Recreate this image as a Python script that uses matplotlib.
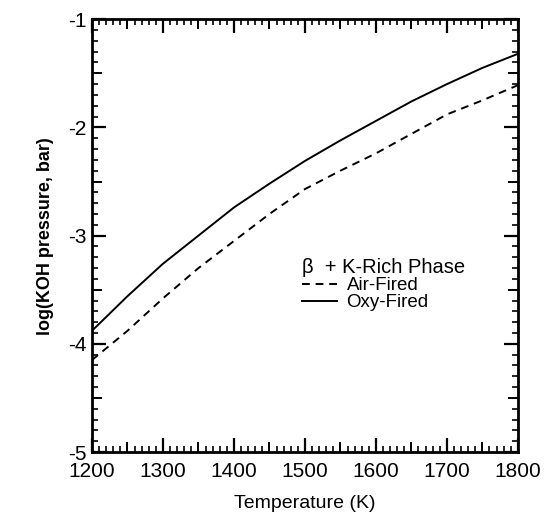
import matplotlib
matplotlib.use('Agg')
import matplotlib.pyplot as plt
from matplotlib.ticker import MultipleLocator

plt.rcParams['font.family'] = ['Liberation Sans', 'DejaVu Sans']
plt.rcParams['axes.unicode_minus'] = False
plt.rcParams['xtick.direction'] = 'in'
plt.rcParams['ytick.direction'] = 'in'

# --- data ---
temperature = [1200, 1250, 1300, 1350, 1400, 1450, 1500, 1550, 1600, 1650, 1700, 1750, 1800]
oxy_fired = [-3.88, -3.56, -3.26, -3.00, -2.74, -2.52, -2.31, -2.12, -1.94, -1.76, -1.60, -1.45, -1.32]
air_fired = [-4.15, -3.88, -3.58, -3.30, -3.05, -2.80, -2.57, -2.40, -2.24, -2.06, -1.88, -1.75, -1.61]

x_ticks = [1200, 1300, 1400, 1500, 1600, 1700, 1800]
y_ticks = [-5, -4, -3, -2, -1]

fig = plt.figure(figsize=(5.44, 5.19), dpi=100)
ax = fig.add_axes([0.169, 0.129, 0.783, 0.834])

ax.plot(temperature, air_fired, color='black', linestyle=(0, (4, 3)), linewidth=1.4, label='Air-Fired')
ax.plot(temperature, oxy_fired, color='black', linestyle='-', linewidth=1.4, label='Oxy-Fired')

ax.set_xlim(1200, 1800)
ax.set_ylim(-5, -1)
ax.set_xticks(x_ticks)
ax.set_yticks(y_ticks)
ax.xaxis.set_minor_locator(MultipleLocator(10))
ax.yaxis.set_minor_locator(MultipleLocator(0.1))
ax.tick_params(which='major', length=10, width=1.6, top=True, right=True, labelsize=15)
ax.tick_params(axis='x', which='major', pad=7)
ax.tick_params(axis='y', which='major', pad=4)
ax.tick_params(which='minor', length=4, width=1.2, top=True, right=True)
for s in ax.spines.values():
    s.set_linewidth(2)

# medium ticks at the half steps
for side in ['bottom', 'top']:
    sec = ax.secondary_xaxis(side)
    sec.set_xticks([1250, 1350, 1450, 1550, 1650, 1750])
    sec.tick_params(direction='in', length=7, width=1.4, labelbottom=False, labeltop=False)
    sec.xaxis.set_minor_locator(plt.NullLocator())
for side in ['left', 'right']:
    sec = ax.secondary_yaxis(side)
    sec.set_yticks([-4.5, -3.5, -2.5, -1.5])
    sec.tick_params(direction='in', length=7, width=1.4, labelleft=False, labelright=False)
    sec.yaxis.set_minor_locator(plt.NullLocator())

ax.set_xlabel('Temperature (K)', fontsize=14, labelpad=10)
ax.set_ylabel('log(KOH pressure, bar)', fontsize=13, fontweight='bold', labelpad=10)

leg = ax.legend(title='β  + K-Rich Phase', loc='upper left', bbox_to_anchor=(0.47, 0.47),
                frameon=False, fontsize=13.5, title_fontsize=14.5, handlelength=1.9,
                handletextpad=0.5, labelspacing=0.0, borderpad=0)
leg._legend_box.align = 'left'
leg._legend_box.sep = 0
leg.get_title().set_fontweight('normal')

fig.savefig('out.png', dpi=100)
